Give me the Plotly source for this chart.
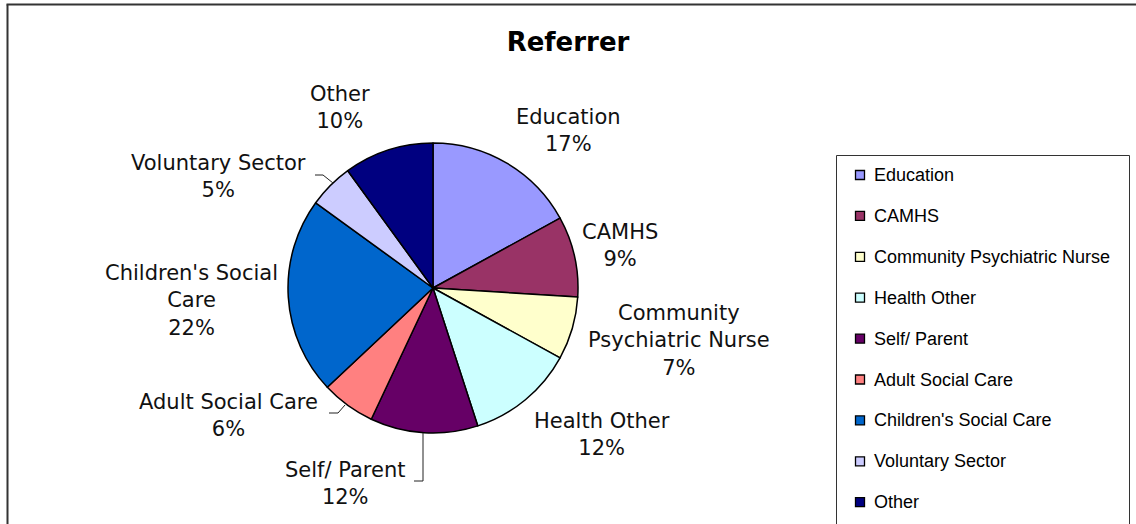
import plotly.graph_objects as go

# ---- data ----
categories = ["Education", "CAMHS", "Community Psychiatric Nurse", "Health Other",
              "Self/ Parent", "Adult Social Care", "Children's Social Care",
              "Voluntary Sector", "Other"]
values = [17, 9, 7, 12, 12, 6, 22, 5, 10]
label_text = ["Education", "CAMHS", "Community<br>Psychiatric Nurse", "Health Other",
              "Self/ Parent", "Adult Social Care", "Children's Social<br>Care",
              "Voluntary Sector", "Other"]
colors = ["#9999FF", "#993366", "#FFFFCC", "#CCFFFF", "#660066",
          "#FF8080", "#0066CC", "#CCCCFF", "#000080"]

W, H = 1136, 524


def px(x):
    return x / W


def py(y):
    return 1 - y / H


# ---- layout constants (pixel positions) ----
pie_box = (288, 143, 578, 433)  # left, top, right, bottom
label_pos = [(568, 130), (620, 245), (679, 340), (602, 434), (345, 483),
             (228, 415), (191, 300), (218, 176), (340, 107)]
leaders = [
    [(423, 433), (423, 481), (414, 481)],
    [(345, 405), (338, 413), (329, 413)],
    [(333, 183), (323, 175), (315, 175)],
]

fig = go.Figure()
fig.add_trace(go.Pie(
    labels=categories, values=values, sort=False, direction="clockwise",
    rotation=0, textinfo="none", hoverinfo="label+percent",
    marker=dict(colors=colors, line=dict(color="black", width=1.5)),
    domain=dict(x=[px(pie_box[0]), px(pie_box[2])], y=[py(pie_box[3]), py(pie_box[1])]),
    showlegend=False,
))

total = sum(values)
annotations = []
for txt, v, (x, y) in zip(label_text, values, label_pos):
    annotations.append(dict(
        x=px(x), y=py(y), xref="paper", yref="paper", showarrow=False,
        text=f"{txt}<br>{round(v / total * 100)}%", align="center",
        xanchor="center", yanchor="middle",
        font=dict(family="DejaVu Sans", size=21, color="#111111"),
    ))

shapes = []
for pts in leaders:
    for (x0, y0), (x1, y1) in zip(pts[:-1], pts[1:]):
        shapes.append(dict(type="line", xref="paper", yref="paper",
                           x0=px(x0), y0=py(y0), x1=px(x1), y1=py(y1),
                           line=dict(color="#222222", width=1)))

# outer chart border (left and top visible)
shapes.append(dict(type="line", xref="paper", yref="paper", x0=px(7.5), y0=py(540),
                   x1=px(7.5), y1=py(4.5), line=dict(color="#333333", width=2)))
shapes.append(dict(type="line", xref="paper", yref="paper", x0=px(6.5), y0=py(4.5),
                   x1=px(1150), y1=py(4.5), line=dict(color="#333333", width=2)))

# legend box
shapes.append(dict(type="rect", xref="paper", yref="paper", x0=px(836.5), y0=py(540),
                   x1=px(1129.5), y1=py(155.5), line=dict(color="#333333", width=1),
                   fillcolor="white", layer="below"))
leg_top, leg_step = 175, 40.9
for i, (cat, col) in enumerate(zip(categories, colors)):
    yc = leg_top + i * leg_step
    shapes.append(dict(type="rect", xref="paper", yref="paper",
                       x0=px(855.5), y0=py(yc + 4.5), x1=px(864.5), y1=py(yc - 4.5),
                       fillcolor=col, line=dict(color="black", width=1.3)))
    annotations.append(dict(
        x=px(872), y=py(yc), xref="paper", yref="paper", showarrow=False,
        text=cat, xanchor="left", yanchor="middle",
        font=dict(family="Liberation Sans", size=18, color="black"),
    ))

fig.update_layout(
    width=W, height=H,
    margin=dict(l=0, r=0, t=0, b=0),
    paper_bgcolor="white", plot_bgcolor="white",
    title=dict(text="<b>Referrer</b>", x=px(568), xanchor="center",
               y=py(42), yanchor="middle", yref="paper",
               font=dict(family="DejaVu Sans", size=26, color="black")),
    annotations=annotations, shapes=shapes,
    showlegend=False,
)

fig.write_html(
    "out.html",
    config={"displayModeBar": False},
    post_script="document.body.style.margin='0';document.body.style.overflow='hidden';",
)
